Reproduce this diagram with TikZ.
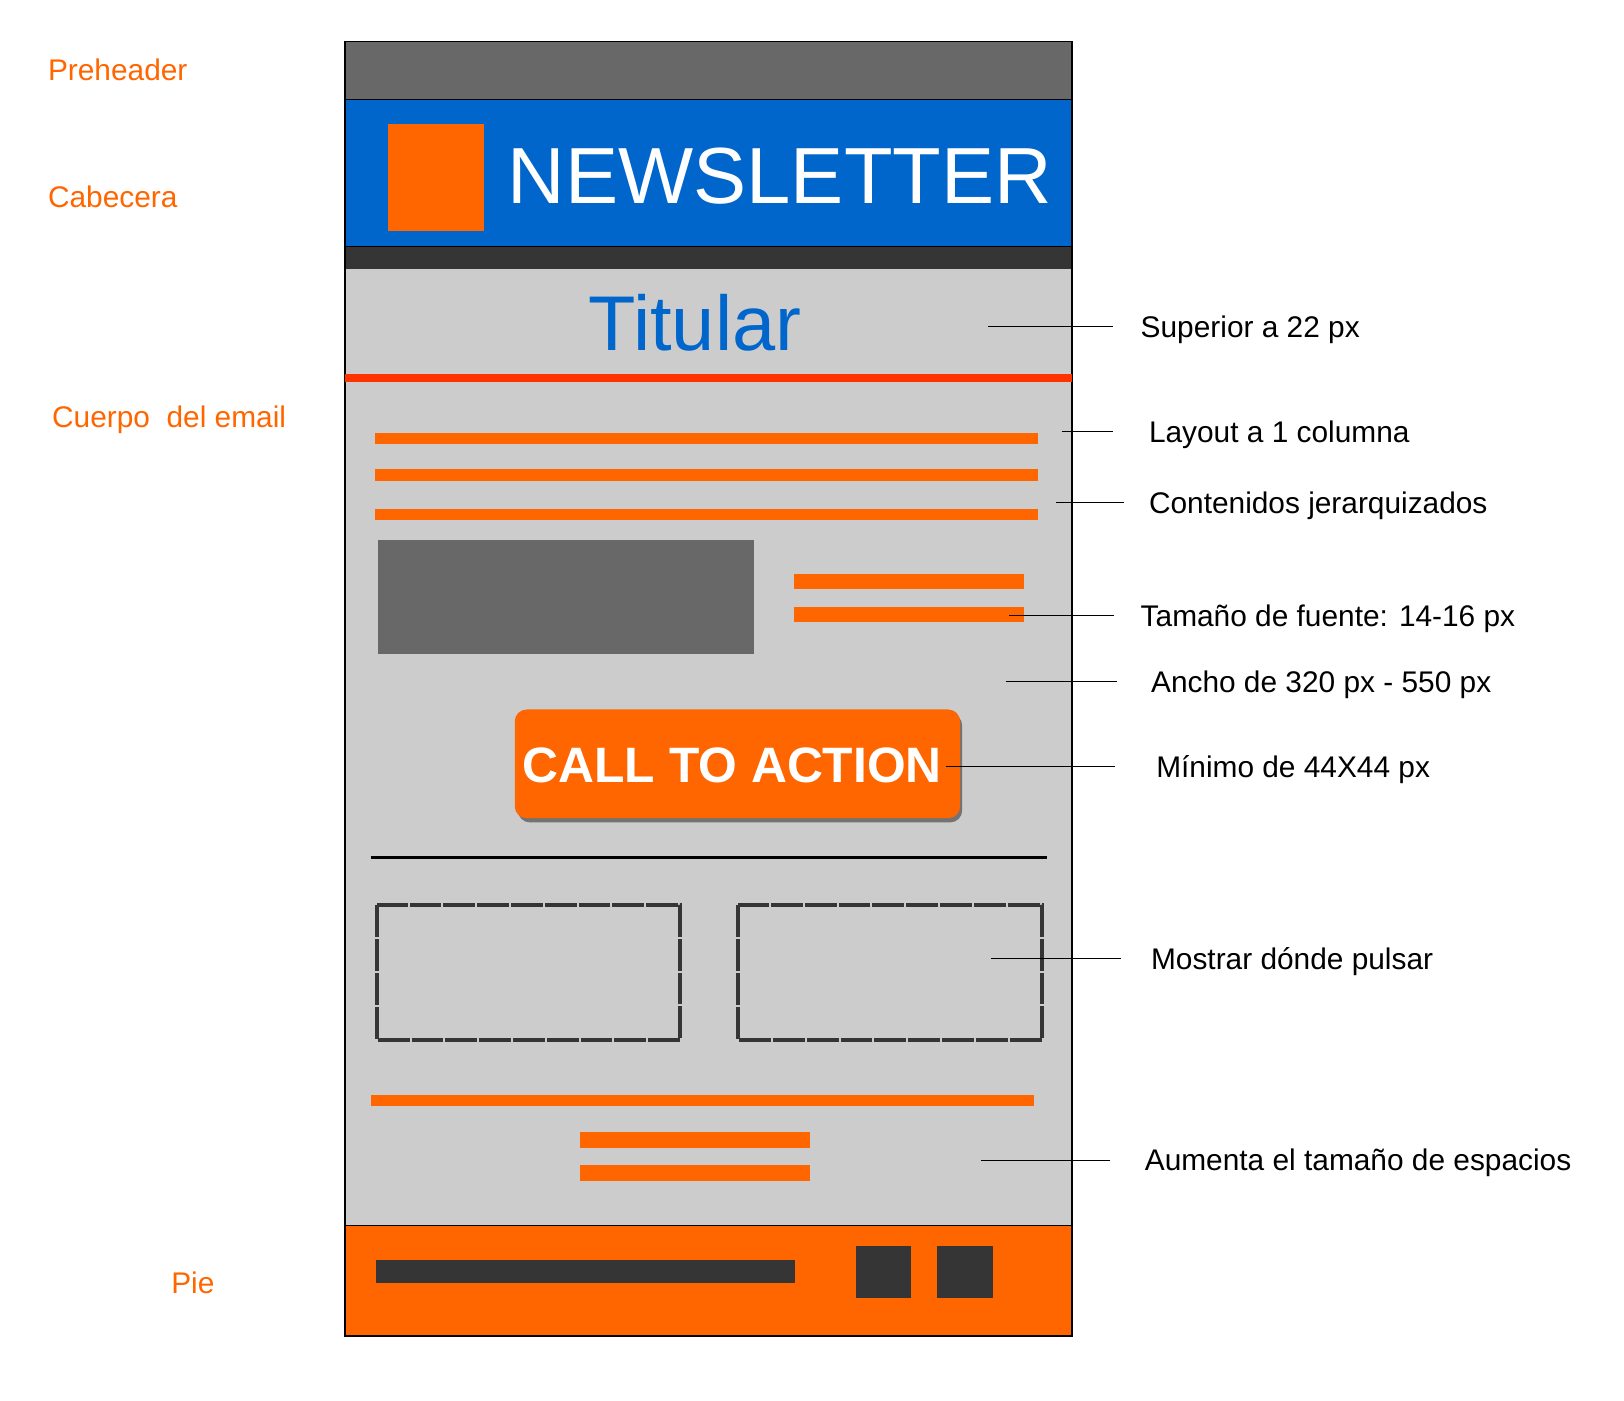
\documentclass[tikz,border=0pt]{standalone}
\usepackage{fontspec}
\setmainfont{Liberation Sans}
\usetikzlibrary{positioning}

\definecolor{mailblue}{HTML}{0066CC}
\definecolor{mailorange}{HTML}{FF6600}
\definecolor{mailred}{HTML}{FF3300}
\definecolor{midgray}{HTML}{686868}
\definecolor{darkgray}{HTML}{353535}
\definecolor{lightgray}{HTML}{CCCCCC}

\tikzset{
  part/.style={text=mailorange, anchor=west, inner sep=0pt, text depth=0pt, font=\fontsize{15pt}{18pt}\selectfont},
  note/.style={anchor=west, text depth=0pt, font=\fontsize{15pt}{18pt}\selectfont},
  leader/.style={line width=0.5pt, black},
  bar/.style={fill=mailorange},
  clickbox/.style={draw=darkgray, line width=2pt, dash pattern=on 16pt off 1pt}
}

\begin{document}
\begin{tikzpicture}[x=0.5205pt, y=-0.5205pt]
	% Define the unit
	\def\u{0.5205pt}
	\useasboundingbox (0,0) rectangle (1568,1352);
	
	% Email frame
	\fill[midgray] (333,40) rectangle (1035,96);
	\fill[mailblue] (333,96) rectangle (1035,238);
	\fill[darkgray] (333,238) rectangle (1035,260);
	\fill[lightgray] (333,260) rectangle (1035,1183);
	\fill[mailorange] (333,1183) rectangle (1035,1290);
	\draw[line width=0.8pt] (333,96) -- (1035,96);
	\draw[line width=0.6pt] (333,238) -- (1035,238);
	\draw[line width=0.6pt] (333,1183) -- (1035,1183);
	\draw[line width=0.8pt] (333,40) rectangle (1035,1290);
	
	% Header
	\fill[mailorange] (375,120) rectangle (467,223);
	\node[anchor=west, inner sep=0pt, text=white, font=\fontsize{40pt}{44pt}\selectfont] (title) at (490,170) {NEWSLETTER};
	
	% Headline
	\node[text=mailblue, inner sep=0pt, font=\fontsize{39pt}{44pt}\selectfont] (headline) at (671,312) {Titular};
	\fill[mailred] (333,361) rectangle (1035,369);
	
	% Text lines
	\foreach \y in {418,453,491}
	\fill[bar] (362,\y) rectangle (1002,\y+11);
	\fill[midgray] (365,521) rectangle (728,631);
	\foreach \y in {554,586}
	\fill[bar] (767,\y) rectangle (989,\y+15);
	
	% Call to action
	\fill[rounded corners=6pt, gray!90!black] (500,689) rectangle (929,794);
	\fill[rounded corners=6pt, mailorange] (497,685) rectangle (927,790);
	\node[text=white, inner sep=0pt, font=\bfseries\fontsize{25pt}{30pt}\selectfont] (cta) at (707,739) {CALL TO ACTION};
	
	% Separator and click boxes
	\draw[line width=1.6pt] (358,828) -- (1011,828);
	\draw[clickbox] (364,874) rectangle (657,1004);
	\draw[clickbox] (713,874) rectangle (1006,1004);
	
	% Lower text lines
	\fill[bar] (358,1057) rectangle (998,1068);
	\foreach \y in {1093,1125}
	\fill[bar] (560,\y) rectangle (782,\y+15);
	
	% Footer
	\fill[darkgray] (363,1217) rectangle (768,1239);
	\foreach \x in {826,905}
	\fill[darkgray] (\x,1203) rectangle (\x+54,1253);
	
	% Parts
	\node[part] (preheader) at (46,67) {Preheader};
	\node[part] (cabecera) at (46,190) {Cabecera};
	\node[part] (cuerpo) at (50,402) {Cuerpo\ \ del email};
	\node[part] (pie) at (165,1238) {Pie};
	
	% Notes
	\foreach \y/\xa/\xb/\xt/\txt [count=\i] in {
		315/954/1075/1101/{Superior a 22 px},
		417/1025/1075/1109/{Layout a 1 columna},
		485/1020/1085/1109/{Contenidos jerarquizados},
		594/974/1076/1101/{Tamaño de fuente: 14-16 px},
		658/971/1078/1111/{Ancho de 320 px - 550 px},
		740/913/1077/1116/{Mínimo de 44X44 px},
		925/957/1082/1111/{Mostrar dónde pulsar},
		1120/947/1072/1105/{Aumenta el tamaño de espacios}}
	{
		\coordinate (tip\i) at (\xa,\y);
		\node[note, inner xsep={(\xt-\xb)*\u}] (note\i) at (\xb,\y) {\txt};
		\draw[leader] (tip\i) -- (note\i.west);
	}
\end{tikzpicture}
\end{document}
